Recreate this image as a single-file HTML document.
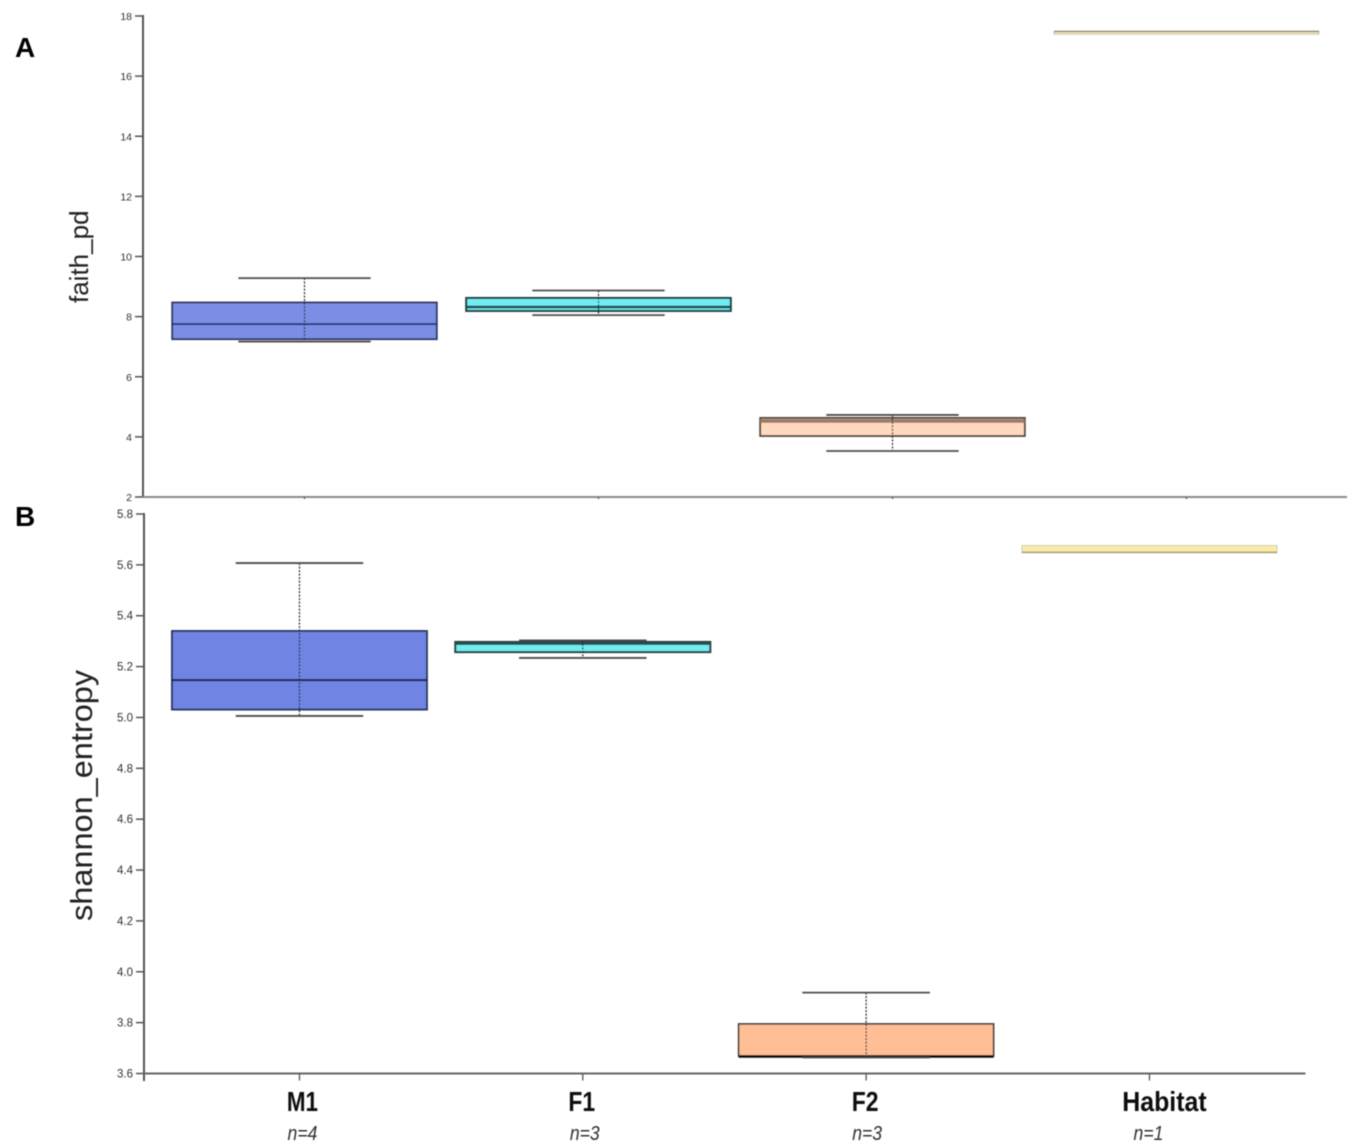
<!DOCTYPE html>
<html lang="en">
<head>
<meta charset="utf-8">
<title>faith_pd and shannon_entropy box plots</title>
<style>
html,body{margin:0;padding:0;background:#fff;width:1358px;height:1148px;overflow:hidden}
svg{display:block;font-family:"Liberation Sans",sans-serif}
</style>
</head>
<body>
<svg id="chart" width="1358" height="1148" viewBox="0 0 1358 1148" xmlns="http://www.w3.org/2000/svg">
  <defs><filter id="soft" x="-5%" y="-5%" width="110%" height="110%"><feGaussianBlur stdDeviation="0.5"/></filter></defs>
  <g id="root" filter="url(#soft)">
    <text x="15" y="57" font-size="28" font-weight="700" fill="#000">A</text>
    <text x="15" y="526" font-size="28" font-weight="700" fill="#000">B</text>
    <text transform="translate(88,303) rotate(-90)" font-size="26" fill="#222">faith_pd</text>
    <text transform="translate(92,921) rotate(-90) scale(1,0.94)" font-size="32.5" fill="#222">shannon_entropy</text>
  </g>
</svg>
<script>
var categories = ['M1', 'F1', 'F2', 'Habitat'];
var sampleSizes = ['n=4', 'n=3', 'n=3', 'n=1'];

var faithTicks = [2, 4, 6, 8, 10, 12, 14, 16, 18];
var faithHigh = [9.28, 8.87, 4.73, null];
var faithQ3 = [8.47, 8.62, 4.63, 17.5];
var faithMedian = [7.75, 8.32, 4.53, 17.48];
var faithQ1 = [7.25, 8.19, 4.03, 17.4];
var faithLow = [7.17, 8.05, 3.53, null];

var shannonTicks = [3.6, 3.8, 4.0, 4.2, 4.4, 4.6, 4.8, 5.0, 5.2, 5.4, 5.6, 5.8];
var shannonHigh = [5.607, 5.303, 3.918, null];
var shannonQ3 = [5.34, 5.297, 3.795, 5.676];
var shannonMedian = [5.147, 5.289, 3.667, 5.65];
var shannonQ1 = [5.031, 5.257, 3.669, 5.647];
var shannonLow = [5.006, 5.234, 3.663, null];

var NS = 'http://www.w3.org/2000/svg';
var root = document.getElementById('root');

function make(tag, attrs, parent) {
  var el = document.createElementNS(NS, tag);
  for (var k in attrs) el.setAttribute(k, attrs[k]);
  (parent || root).appendChild(el);
  return el;
}
function scaleLinear(d0, d1, r0, r1) {
  return function (v) { return r0 + (v - d0) / (d1 - d0) * (r1 - r0); };
}

function drawPanel(cfg) {
  var y = scaleLinear(cfg.domain[0], cfg.domain[1], cfg.yBottom, cfg.yTop);
  var xc = function (i) { return cfg.xStart + (i + 0.5) * cfg.band; };
  var g = make('g', {});
  
  

  var yAxis = make('line', { x1: cfg.axisX, x2: cfg.axisX, y1: cfg.yTop - 1, y2: cfg.yAxisEnd, stroke: '#555', 'stroke-width': 2 }, g);
  
  

  var xAxis = make('line', { x1: cfg.axisX, x2: cfg.axisEnd, y1: cfg.yBottom, y2: cfg.yBottom, stroke: cfg.xAxisColor, 'stroke-width': 2 }, g);
  
  

  cfg.ticks.forEach(function (t) {
    var tick = make('line', { x1: cfg.axisX - 8, x2: cfg.axisX, y1: y(t), y2: y(t), stroke: '#555', 'stroke-width': 1.5 }, g);
    
    
    var label = make('text', { x: cfg.axisX - 11, y: y(t) + 4, 'text-anchor': 'end', 'font-size': cfg.tickFont, fill: '#333' }, g);
    
    
    label.textContent = cfg.tickDigits ? t.toFixed(cfg.tickDigits) : String(t);
  });

  categories.forEach(function (c, i) {
    var cx = xc(i);
    var tick = make('line', { x1: cx, x2: cx, y1: cfg.yBottom, y2: cfg.yBottom + cfg.xTickLen, stroke: '#555', 'stroke-width': 1.3 }, g);
    
    

    var boxW = cfg.band * 0.9;
    var capW = cfg.band * 0.45;
    var style = cfg.styles[i];
    var bg = make('g', {}, g);
    
    

    var top = y(cfg.q3[i]);
    var bot = y(cfg.q1[i]);
    var box = make('rect', { x: cx - boxW / 2, y: Math.min(top, bot), width: boxW, height: Math.abs(bot - top), fill: style.fill, stroke: style.stroke, 'stroke-width': style.width }, bg);
    
    

    var med = make('line', { x1: cx - boxW / 2, x2: cx + boxW / 2, y1: y(cfg.median[i]), y2: y(cfg.median[i]), stroke: style.medianStroke, 'stroke-width': style.medianWidth }, bg);
    
    

    if (cfg.high[i] !== null) {
      var stem = make('line', { x1: cx, x2: cx, y1: y(cfg.high[i]), y2: y(cfg.low[i]), stroke: '#222', 'stroke-width': 1.2, 'stroke-dasharray': '2 1.5' }, bg);
      
      
      var capHigh = make('line', { x1: cx - capW / 2, x2: cx + capW / 2, y1: y(cfg.high[i]), y2: y(cfg.high[i]), stroke: '#4d4d4d', 'stroke-width': 1.8 }, bg);
      
      
      var capLow = make('line', { x1: cx - capW / 2, x2: cx + capW / 2, y1: y(cfg.low[i]), y2: y(cfg.low[i]), stroke: '#4d4d4d', 'stroke-width': 1.8 }, bg);
      
      
    }
  });
  return xc;
}

drawPanel({
  name: 'faith-pd', domain: [2, 18], yTop: 16, yBottom: 497, yAxisEnd: 497,
  axisX: 143, axisEnd: 1347, xStart: 157.5, band: 294, xTickLen: 2,
  xAxisColor: '#8a8a8a', ticks: faithTicks, tickFont: 10.5, tickDigits: 0,
  high: faithHigh, q3: faithQ3, median: faithMedian, q1: faithQ1, low: faithLow,
  styles: [
    { fill: '#7a8ee6', stroke: '#2b3560', width: 1.8, medianStroke: '#1e2a66', medianWidth: 1.8 },
    { fill: '#72ecf0', stroke: '#1f3c40', width: 2, medianStroke: '#1c4a4e', medianWidth: 2.4 },
    { fill: '#ffd9bf', stroke: '#4d403a', width: 1.8, medianStroke: '#9a7a65', medianWidth: 3.5 },
    { fill: '#fdf0c4', stroke: '#c4bda4', width: 1, medianStroke: '#8f8666', medianWidth: 1.3 }
  ]
});

var xcB = drawPanel({
  name: 'shannon-entropy', domain: [3.6, 5.8], yTop: 514, yBottom: 1073.5, yAxisEnd: 1081,
  axisX: 144, axisEnd: 1305.5, xStart: 157.8, band: 283.33, xTickLen: 7,
  xAxisColor: '#666', ticks: shannonTicks, tickFont: 11.5, tickDigits: 1,
  high: shannonHigh, q3: shannonQ3, median: shannonMedian, q1: shannonQ1, low: shannonLow,
  styles: [
    { fill: '#6f84e3', stroke: '#25305a', width: 1.8, medianStroke: '#1a2350', medianWidth: 2.2 },
    { fill: '#72ecf0', stroke: '#253f42', width: 2, medianStroke: '#2a4a4c', medianWidth: 1.8 },
    { fill: '#ffbe96', stroke: '#443c38', width: 1.6, medianStroke: '#111', medianWidth: 2.6 },
    { fill: '#f9eda6', stroke: '#cfccbc', width: 1, medianStroke: '#a8a27a', medianWidth: 1.4 }
  ]
});

var labelNudge = [3, -1, -1, 15];
var sizeNudge = [3, 2, 1, -1];
var labelStretch = [0.8, 0.82, 0.82, 0.89];

categories.forEach(function (c, i) {
  var cx = xcB(i) + labelNudge[i];
  var label = make('text', { transform: 'translate(' + cx + ',1111) scale(' + labelStretch[i] + ',1)', 'text-anchor': 'middle', 'font-size': 28, 'font-weight': 700, fill: '#111' });
  
  
  label.textContent = c;
  var sx = xcB(i) + sizeNudge[i];
  var size = make('text', { transform: 'translate(' + sx + ',1140) scale(0.88,1)', 'text-anchor': 'middle', 'font-size': 20, 'font-style': 'italic', fill: '#333' });
  
  
  size.textContent = sampleSizes[i];
});
</script>
</body>
</html>
